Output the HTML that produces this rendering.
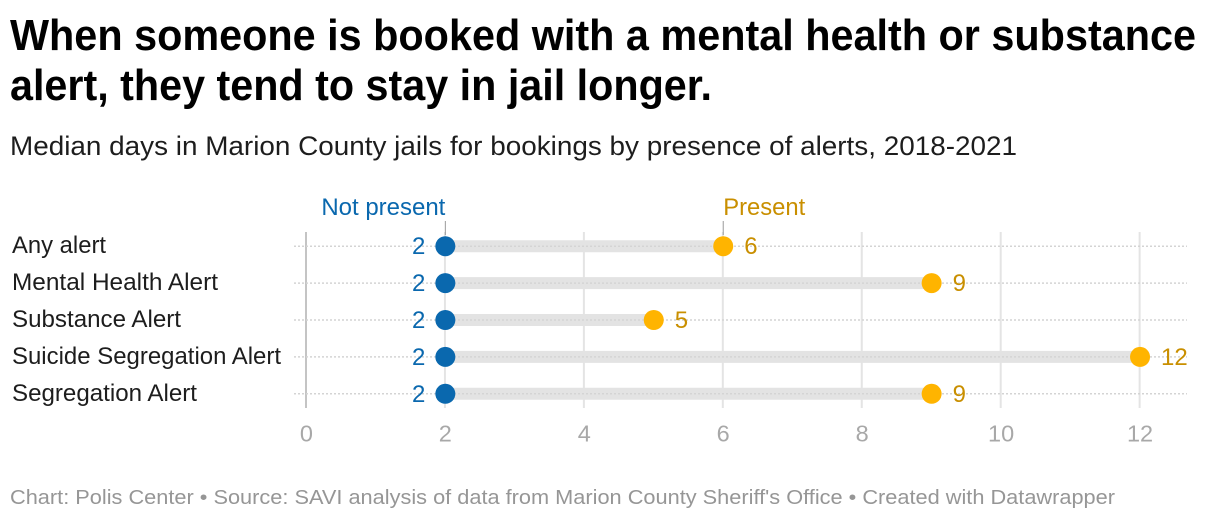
<!DOCTYPE html>
<html lang="en">
<head>
<meta charset="utf-8">
<title>Median days in jail by alert</title>
<style>
html,body{margin:0;padding:0;background:#fff;width:1220px;height:520px;overflow:hidden}
svg{display:block}
text{font-family:"Liberation Sans",sans-serif}
</style>
</head>
<body>
<svg id="chart" xmlns="http://www.w3.org/2000/svg" width="1220" height="520" viewBox="0 0 1220 520">
  <text x="10" y="50" font-size="44" font-weight="700" fill="#000" textLength="1186" lengthAdjust="spacingAndGlyphs">When someone is booked with a mental health or substance</text>
  <text x="10" y="100" font-size="44" font-weight="700" fill="#000" textLength="702" lengthAdjust="spacingAndGlyphs">alert, they tend to stay in jail longer.</text>
  <text x="10" y="155" font-size="26.5" fill="#1d1d1d" textLength="1007" lengthAdjust="spacingAndGlyphs">Median days in Marion County jails for bookings by presence of alerts, 2018-2021</text>
  <g id="grid"></g>
  <g id="rows"></g>
  <text x="10" y="504" font-size="20.5" fill="#969696" textLength="1105" lengthAdjust="spacingAndGlyphs">Chart: Polis Center • Source: SAVI analysis of data from Marion County Sheriff's Office • Created with Datawrapper</text>
</svg>
<script>
const categories = ["Any alert", "Mental Health Alert", "Substance Alert", "Suicide Segregation Alert", "Segregation Alert"];
const notPresent = [2, 2, 2, 2, 2];
const present = [6, 9, 5, 12, 9];
const xTicks = [0, 2, 4, 6, 8, 10, 12];
const seriesNames = ["Not present", "Present"];

const NS = "http://www.w3.org/2000/svg";
const xScale = v => 306.4 + v * 69.47;
const yScale = i => 246.2 + i * 36.9;
const grid = document.getElementById("grid");
const rows = document.getElementById("rows");

function add(parent, tag, attrs, txt) {
  const el = document.createElementNS(NS, tag);
  for (const k in attrs) el.setAttribute(k, attrs[k]);
  if (txt !== undefined) el.textContent = txt;
  parent.appendChild(el);
  return el;
}

xTicks.forEach(t => {
  const line = add(grid, "line", {x1: xScale(t) - 0.4, x2: xScale(t) - 0.4, y1: 232, y2: 408, stroke: t === 0 ? "#c4c4c4" : "#e4e4e4", "stroke-width": 2});
  
  
  const label = add(grid, "text", {x: xScale(t), y: 441.5, "font-size": 23.5, fill: "#a8a8a8", "text-anchor": "middle"}, String(t));
  
  
});

categories.forEach((name, i) => {
  const y = yScale(i);
  const a = notPresent[i], b = present[i];

  const label = add(rows, "text", {x: 12, y: y + 7, "font-size": 24, fill: "#1d1d1d"}, name);
  
  
  label.setAttribute('textLength', [94, 206, 169, 269, 185][i]);
  label.setAttribute('lengthAdjust', 'spacingAndGlyphs');

  const bar = add(rows, "line", {x1: xScale(a), x2: xScale(b), y1: y, y2: y, stroke: "#e3e3e3", "stroke-width": 12});
  
  

  const dots = add(rows, "line", {x1: 294, x2: 1187, y1: y, y2: y, stroke: "#d4d4d4", "stroke-width": 1.5, "stroke-dasharray": "2 2"});
  
  

  const dotA = add(rows, "circle", {cx: xScale(a), cy: y, r: 10, fill: "#0a68ae"});
  
  

  const dotB = add(rows, "circle", {cx: xScale(b), cy: y, r: 10, fill: "#ffb400"});
  
  

  const valA = add(rows, "text", {x: xScale(a) - 20, y: y + 8, "font-size": 24, fill: "#0a68ae", "text-anchor": "end"}, String(a));
  
  

  const valB = add(rows, "text", {x: xScale(b) + 21, y: y + 8, "font-size": 24, fill: "#c98f00"}, String(b));
  
  
});

const tickA = add(rows, "line", {x1: xScale(notPresent[0]), x2: xScale(notPresent[0]), y1: 221, y2: 235, stroke: "#9a9a9a", "stroke-width": 1});



const tickB = add(rows, "line", {x1: xScale(present[0]), x2: xScale(present[0]), y1: 221, y2: 235, stroke: "#9a9a9a", "stroke-width": 1});



const nameA = add(rows, "text", {x: xScale(notPresent[0]) - 124, y: 215, "font-size": 24, fill: "#0a68ae", textLength: 124, lengthAdjust: "spacingAndGlyphs"}, seriesNames[0]);



const nameB = add(rows, "text", {x: xScale(present[0]), y: 215, "font-size": 24, fill: "#c98f00", textLength: 82, lengthAdjust: "spacingAndGlyphs"}, seriesNames[1]);


</script>
</body>
</html>
